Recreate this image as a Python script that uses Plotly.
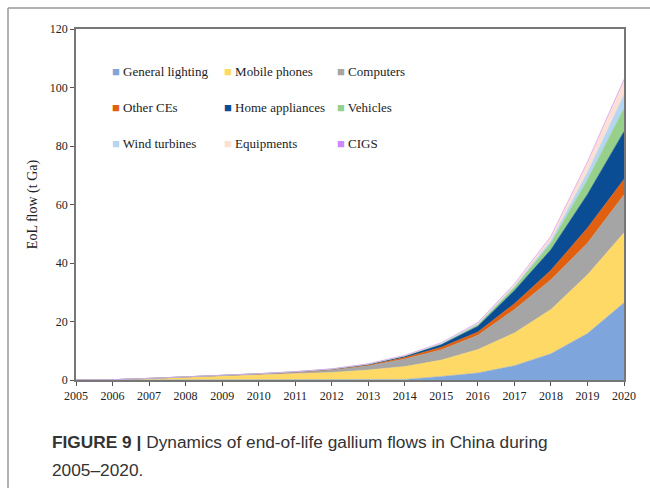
import plotly.graph_objects as go

years = list(range(2005, 2021))
series_names = ["General lighting", "Mobile phones", "Computers", "Other CEs",
                "Home appliances", "Vehicles", "Wind turbines", "Equipments", "CIGS"]
general_lighting = [0, 0, 0, 0, 0, 0, 0, 0, 0.05, 0.2, 1.2, 2.4, 4.9, 9.0, 15.9, 26.4]
mobile_phones = [0, 0.1, 0.5, 0.9, 1.3, 1.7, 2.1, 2.6, 3.4, 4.4, 5.6, 8.0, 11.2, 15.1, 20.1, 23.9]
computers = [0, 0, 0.05, 0.1, 0.2, 0.3, 0.5, 0.8, 1.4, 2.6, 3.5, 4.9, 8.0, 10.2, 10.8, 13.0]
other_ces = [0, 0, 0, 0.02, 0.05, 0.08, 0.12, 0.18, 0.3, 0.5, 0.9, 1.1, 2.0, 3.2, 5.2, 5.3]
home_appliances = [0, 0, 0, 0, 0.02, 0.05, 0.08, 0.12, 0.2, 0.4, 0.9, 2.0, 4.5, 7.1, 11.5, 16.4]
vehicles = [0, 0, 0, 0, 0, 0.01, 0.02, 0.04, 0.08, 0.15, 0.3, 0.6, 1.1, 2.2, 5.0, 7.9]
wind_turbines = [0, 0, 0, 0, 0, 0, 0, 0, 0.01, 0.03, 0.05, 0.1, 0.3, 0.9, 2.5, 4.6]
equipments = [0, 0, 0, 0.01, 0.02, 0.04, 0.06, 0.08, 0.1, 0.15, 0.3, 0.5, 0.8, 1.4, 3.5, 5.1]
cigs = [0, 0, 0, 0, 0, 0, 0, 0, 0, 0.01, 0.02, 0.03, 0.05, 0.08, 0.12, 0.2]

colors = ["#7EA6DC", "#FFD966", "#A5A5A5", "#E0600F", "#0B4D94",
          "#97D08A", "#B5D6F0", "#FDE0D5", "#CC88FF"]
values = [general_lighting, mobile_phones, computers, other_ces, home_appliances,
          vehicles, wind_turbines, equipments, cigs]

L, R, T, B = 76, 26, 29, 108
W, H = 650, 488
PW, PH = W - L - R, H - T - B

def px(x):
    return (x - L) / PW

def py(y):
    return (H - B - y) / PH

fig = go.Figure()
for name, vals, col in zip(series_names, values, colors):
    fig.add_trace(go.Scatter(
        x=years, y=vals, name=name, stackgroup="one", mode="lines",
        line=dict(width=0.5, color=col), fillcolor=col, showlegend=False,
        hoverinfo="skip"))

# legend laid out in 3 columns (one vertical legend per column)
legend_ids = ["legend", "legend2", "legend3"]
for i, (name, col) in enumerate(zip(series_names, colors)):
    fig.add_trace(go.Scatter(
        x=[None], y=[None], mode="markers",
        marker=dict(color="rgba(0,0,0,0)", size=1),
        name=f'<span style="color:{col}">■</span> {name}',
        legend=legend_ids[i % 3], legendgroup=f"g{i}", showlegend=True))

leg_common = dict(orientation="v", xanchor="left", yanchor="top",
                  bgcolor="rgba(0,0,0,0)", borderwidth=0, tracegroupgap=16,
                  traceorder="grouped",
                  font=dict(family="Liberation Serif", size=13, color="#222"),
                  itemclick=False, itemdoubleclick=False)
col_x = [72, 184, 297]
fig.update_layout(
    legend=dict(x=px(col_x[0]), y=py(56), **leg_common),
    legend2=dict(x=px(col_x[1]), y=py(56), **leg_common),
    legend3=dict(x=px(col_x[2]), y=py(56), **leg_common),
)

axis_font = dict(family="Liberation Serif", size=12, color="#222")
fig.update_xaxes(range=[2005, 2020], tickmode="linear", tick0=2005, dtick=1,
                 ticks="outside", ticklen=4, tickcolor="#555", tickfont=axis_font,
                 showline=True, linecolor="#777", linewidth=1.5, mirror=True,
                 showgrid=False, zeroline=False)
fig.update_yaxes(range=[0, 120], tickmode="linear", tick0=0, dtick=20,
                 ticks="outside", ticklen=4, tickcolor="#555", tickfont=axis_font,
                 showline=True, linecolor="#777", linewidth=1.5, mirror=True,
                 showgrid=False, zeroline=False,
                 title=dict(text="EoL flow (t Ga)", standoff=9,
                            font=dict(family="Liberation Serif", size=14, color="#222")))

shapes = [
    dict(type="line", xref="paper", yref="paper", x0=px(8), x1=px(650), y0=py(8), y1=py(8),
         line=dict(color="#999", width=1.5)),
    dict(type="line", xref="paper", yref="paper", x0=px(8), x1=px(8), y0=py(8), y1=py(488),
         line=dict(color="#999", width=1.5)),
]

annotations = [
    dict(xref="paper", yref="paper", x=px(50), y=py(442), xanchor="left", yanchor="middle",
         showarrow=False, align="left",
         text="<b>FIGURE 9 |</b> Dynamics of end-of-life gallium flows in China during",
         font=dict(family="Liberation Sans", size=17.3, color="#333")),
    dict(xref="paper", yref="paper", x=px(50), y=py(470), xanchor="left", yanchor="middle",
         showarrow=False, align="left", text="2005–2020.",
         font=dict(family="Liberation Sans", size=17.3, color="#333")),
]

fig.update_layout(
    width=W, height=H, margin=dict(l=L, r=R, t=T, b=B, autoexpand=False),
    paper_bgcolor="white", plot_bgcolor="white", hovermode=False,
    shapes=shapes, annotations=annotations,
)

fig.write_html("out.html")
